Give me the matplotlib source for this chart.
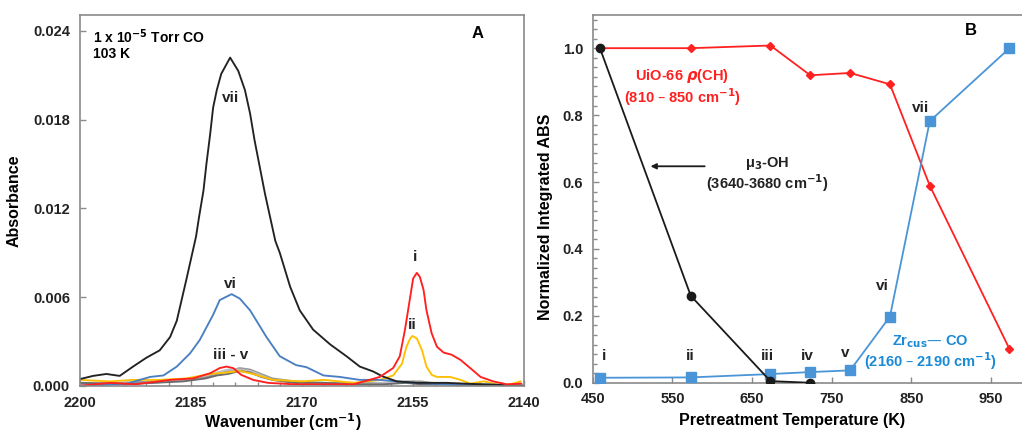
import numpy as np
import matplotlib.pyplot as plt
from matplotlib.ticker import MultipleLocator, AutoMinorLocator

plt.rcParams['font.family'] = ['Liberation Sans', 'DejaVu Sans']
plt.rcParams['font.weight'] = 'bold'

# ---- panel A: IR spectra (wavenumber in cm-1, absorbance) ----
wn_vii = [2200, 2198.2, 2196.4, 2194.6, 2192.8, 2191.0, 2189.2, 2187.8, 2186.9, 2185.6, 2184.3,
          2183.9, 2183.3, 2182.9, 2182.4, 2182.0, 2181.5, 2180.9, 2179.7, 2178.6, 2177.7,
          2177.0, 2176.4, 2175.7, 2175.0, 2174.3, 2173.6, 2173.0, 2171.6, 2170.3, 2168.5,
          2166.2, 2164.0, 2162.2, 2160.4, 2159.1, 2157.2, 2154.5, 2150.5, 2145.9, 2140]
abs_vii = [0.00045, 0.00067, 0.0008, 0.00067, 0.0013, 0.0019, 0.0024, 0.0033, 0.0044, 0.0072, 0.0101,
           0.0114, 0.0132, 0.0150, 0.0170, 0.0188, 0.0200, 0.0211, 0.0222, 0.0213, 0.0200,
           0.0184, 0.0166, 0.0148, 0.0130, 0.0114, 0.0098, 0.0090, 0.0067, 0.0051, 0.0038,
           0.0028, 0.0020, 0.0013, 0.00097, 0.00063, 0.0003, 0.0002, 0.0002, 0.0001, 0.0]

wn_vi = [2200, 2193.7, 2191.9, 2190.5, 2188.7, 2186.9, 2185.1, 2183.8, 2182.0, 2181.1, 2179.5,
         2178.4, 2177.0, 2174.8, 2173.0, 2170.8, 2169.4, 2167.1, 2164.9, 2162.2, 2159.5,
         2155, 2150, 2145, 2140]
abs_vi = [0.0, 0.00013, 0.0004, 0.0006, 0.0007, 0.0013, 0.0022, 0.0031, 0.0048, 0.0058, 0.0062,
          0.0059, 0.0051, 0.0033, 0.0020, 0.0014, 0.00126, 0.0007, 0.0006, 0.0004, 0.0004,
          0.0002, 0.0001, 0.0001, 0.0]

wn_i = [2200, 2195.9, 2192.5, 2187.8, 2184.7, 2182.4, 2181.1, 2180.2, 2179.3, 2178.2, 2176.6,
        2174.6, 2171, 2167, 2163, 2159.5, 2157.7, 2156.8, 2156.1, 2155.4, 2155.0, 2154.5,
        2154.1, 2153.6, 2153.2, 2152.5, 2151.8, 2150.9, 2149.8, 2148.6, 2147.3, 2145.9,
        2144.2, 2142.4, 2140.4]
abs_i = [0.0, 0.0002, 0.0001, 0.0004, 0.0005, 0.00085, 0.0012, 0.0013, 0.0012, 0.00074, 0.0004,
         0.0002, 0.0001, 0.0001, 0.0001, 0.0006, 0.0012, 0.0020, 0.0038, 0.0060, 0.00726, 0.00764,
         0.00737, 0.0065, 0.0051, 0.00355, 0.00265, 0.00225, 0.0021, 0.00175, 0.0012, 0.0006,
         0.0003, 0.0001, 0.00015]

wn_ii = [2200, 2195.9, 2192.8, 2189.2, 2185.6, 2182.4, 2180.2, 2178.4, 2176.6, 2173.9, 2170,
         2167, 2163, 2159.5, 2157.7, 2156.5, 2155.9, 2155.4, 2155.1, 2154.5, 2153.8, 2153.2,
         2152.5, 2151.8, 2150.0, 2148.6, 2147.3, 2145.5, 2143.7, 2141.9, 2140.5]
abs_ii = [0.0004, 0.0003, 0.0004, 0.0004, 0.0005, 0.0008, 0.0009, 0.0010, 0.0008, 0.0004, 0.0003,
          0.0004, 0.0002, 0.0004, 0.0007, 0.0015, 0.00265, 0.0032, 0.00337, 0.0032, 0.0024, 0.0013,
          0.00074, 0.0006, 0.0006, 0.0004, 0.00015, 0.0003, 0.0001, 0.0001, 0.0003]

wn_grey = [2200, 2195, 2190, 2186, 2183, 2181.5, 2180, 2178.4, 2177, 2175.5, 2174, 2171, 2167,
           2163, 2159, 2156, 2154, 2151, 2147, 2143, 2140]
abs_iii = [0.0002, 0.0002, 0.0003, 0.0004, 0.0006, 0.0008, 0.0010, 0.0012, 0.0011, 0.0008, 0.0005,
           0.0003, 0.0002, 0.0002, 0.0002, 0.0003, 0.0003, 0.0001, 0.0001, 0.0, 0.0]
abs_iv = [0.0001, 0.0001, 0.0002, 0.0004, 0.0007, 0.0009, 0.0011, 0.0011, 0.0010, 0.0007, 0.0004,
          0.0002, 0.0001, 0.0001, 0.0002, 0.0002, 0.0002, 0.0001, 0.0, 0.0, 0.0]
abs_v = [0.0002, 0.0001, 0.0002, 0.0003, 0.0005, 0.0007, 0.0008, 0.0010, 0.0009, 0.0006, 0.0004,
         0.0002, 0.0002, 0.0001, 0.0001, 0.0002, 0.0001, 0.0001, 0.0, 0.0, 0.0]

# ---- panel B: normalized integrated absorbance vs pretreatment temperature ----
temp = [459, 573, 673, 723, 773, 823, 873, 973]
ch_abs = [1.0, 1.0, 1.008, 0.919, 0.926, 0.892, 0.589, 0.101]
oh_temp = [459, 573, 673, 723]
oh_abs = [1.0, 0.26, 0.005, 0.0]
zr_abs = [0.015, 0.016, 0.026, 0.032, 0.037, 0.198, 0.782, 1.0]
roman = ['i', 'ii', 'iii', 'iv', 'v', 'vi', 'vii']

fig = plt.figure(figsize=(10.22, 4.33), dpi=100)
axA = fig.add_axes([0.078, 0.109, 0.435, 0.857])
axB = fig.add_axes([0.580, 0.116, 0.421, 0.850])

spine_col = '#8a8a8a'
for ax in (axA, axB):
    for s in ax.spines.values():
        s.set_color(spine_col)
        s.set_linewidth(1.2)
    ax.tick_params(direction='in', colors=spine_col, labelcolor='#222222', labelsize=10.5,
                   width=1.0, length=4)
    ax.tick_params(which='minor', direction='in', colors=spine_col, width=1.0, length=3)
    ax.tick_params(axis='x', pad=7)
    ax.tick_params(axis='y', pad=7)

# panel A
lw = 1.35
axA.plot(wn_grey, abs_iii, color='#9a9a9a', lw=lw)
axA.plot(wn_grey, abs_iv, color='#c0c0c0', lw=lw)
axA.plot(wn_grey, abs_v, color='#6a6a6a', lw=lw)
axA.plot(wn_ii, abs_ii, color='#ffc000', lw=lw)
axA.plot(wn_vi, abs_vi, color='#4a7fc1', lw=lw)
axA.plot(wn_vii, abs_vii, color='#222222', lw=lw)
axA.plot(wn_i, abs_i, color='#ff2020', lw=lw)

axA.set_xlim(2200, 2140)
axA.set_ylim(0, 0.0251)
axA.set_xticks(np.arange(2200, 2139, -15))
axA.set_xticks(np.arange(2200, 2139, -3), minor=True)
axA.yaxis.set_major_locator(MultipleLocator(0.006))
axA.yaxis.set_major_formatter(plt.FormatStrFormatter('%.3f'))
axA.set_xlabel('Wavenumber (cm$^{\\mathbf{-1}}$)', fontsize=11.5, fontweight='bold', labelpad=1)
axA.xaxis.label.set_x(0.457)
axA.set_ylabel('Absorbance', fontsize=11.5, fontweight='bold', labelpad=8)

axA.text(0.03, 0.965, '1 x 10$^{\\mathbf{-5}}$ Torr CO\n103 K', transform=axA.transAxes,
         fontsize=10, fontweight='bold', va='top', ha='left', linespacing=1.1)
axA.text(0.895, 0.95, 'A', transform=axA.transAxes, fontsize=12, fontweight='bold',
         ha='center', va='center')
lab_kw = dict(fontsize=11, fontweight='bold', ha='center', va='center', color='#222222')
axA.text(2179.7, 0.0195, 'vii', **lab_kw)
axA.text(2179.7, 0.0069, 'vi', **lab_kw)
axA.text(2179.7, 0.0021, 'iii - v', **lab_kw)
axA.text(2154.7, 0.0087, 'i', **lab_kw)
axA.text(2155.1, 0.0041, 'ii', **lab_kw)

# panel B
axB.plot(temp, ch_abs, color='#ff2020', lw=1.3, marker='D', ms=4, zorder=3)
axB.plot(temp, zr_abs, color='#4a95d8', lw=1.3, marker='s', ms=6.5, zorder=3)
axB.plot(oh_temp, oh_abs, color='#1a1a1a', lw=1.3, marker='o', ms=6, zorder=4)

axB.set_xlim(450, 990)
axB.set_ylim(0, 1.1)
axB.set_xticks(np.arange(450, 951, 100))
axB.yaxis.set_major_locator(MultipleLocator(0.2))
axB.yaxis.set_minor_locator(AutoMinorLocator(7))
axB.yaxis.set_major_formatter(plt.FormatStrFormatter('%.1f'))
axB.spines['right'].set_visible(False)
axB.set_xlabel('Pretreatment Temperature (K)', fontsize=11.5, fontweight='bold', labelpad=5)
axB.xaxis.label.set_x(0.463)
axB.set_ylabel('Normalized Integrated ABS', fontsize=11.5, fontweight='bold', labelpad=7)
axB.yaxis.label.set_y(0.451)

axB.text(924, 1.054, 'B', fontsize=12, fontweight='bold', ha='center', va='center')
axB.text(562, 0.883, 'UiO-66 $\\boldsymbol{\\rho}$(CH)\n(810 \u2013 850 cm$^{\\mathbf{-1}}$)',
         color='#ff2020', fontsize=10.5, fontweight='bold', ha='center', va='center',
         linespacing=1.05)
axB.text(669, 0.622, '\u03bc$_{\\mathbf{3}}$-OH\n(3640-3680 cm$^{\\mathbf{-1}}$)', color='#222222',
         fontsize=10.5, fontweight='bold', ha='center', va='center', linespacing=1.0)
axB.annotate('', xy=(519, 0.647), xytext=(594, 0.647),
             arrowprops=dict(arrowstyle='-|>', color='#1a1a1a', lw=1.3, mutation_scale=8))
axB.text(874, 0.09, 'Zr$_{\\mathbf{cus}}$\u2014 CO\n(2160 \u2013 2190 cm$^{\\mathbf{-1}}$)',
         color='#1a8ad6', fontsize=10.5, fontweight='bold', ha='center', va='center',
         linespacing=1.0)

roman_x = [464, 572, 669, 719, 767, 813, 862]
roman_y = [0.08, 0.08, 0.08, 0.08, 0.09, 0.29, 0.82]
for rx, ry, r in zip(roman_x, roman_y, roman):
    axB.text(rx, ry, r, fontsize=11, fontweight='bold', ha='center', va='center', color='#222222')

fig.savefig('out.png', dpi=100)
